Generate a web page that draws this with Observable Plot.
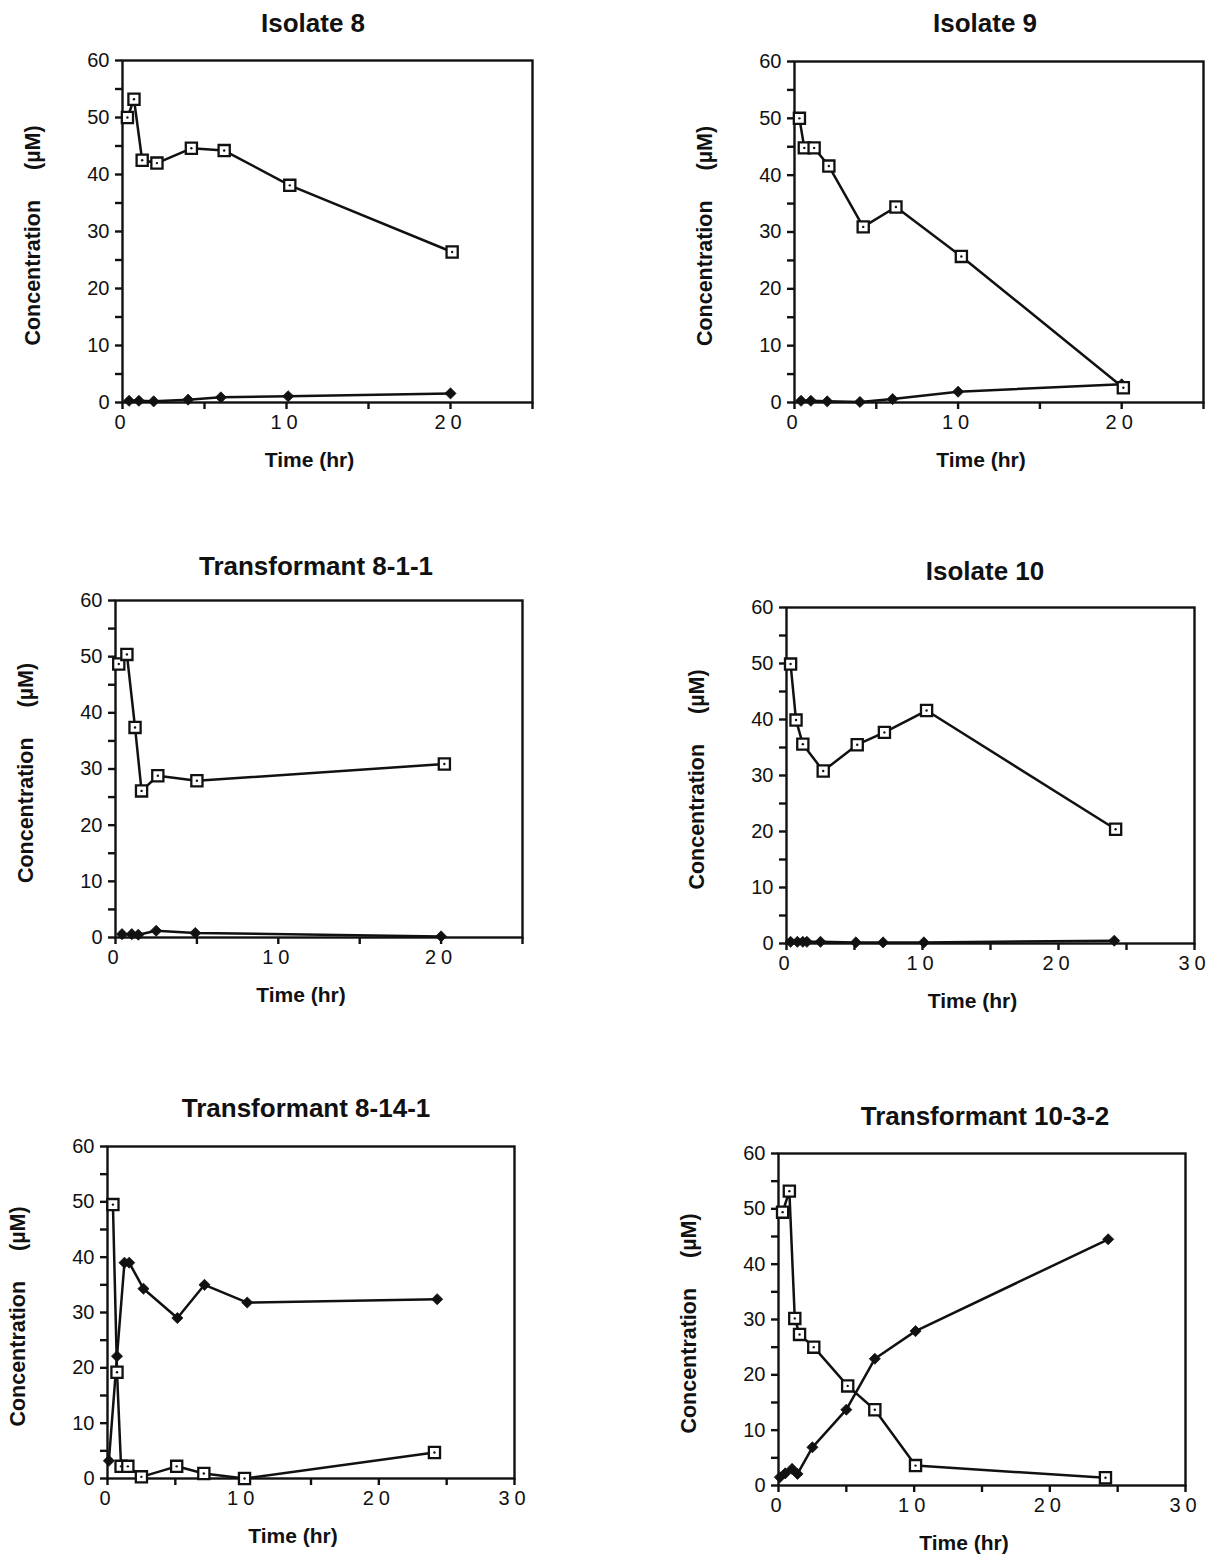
<!DOCTYPE html>
<html><head><meta charset="utf-8">
<script src="https://cdn.jsdelivr.net/npm/d3@7"></script>
<script src="https://cdn.jsdelivr.net/npm/@observablehq/plot@0.6"></script>
<style>
html,body{margin:0;padding:0;background:#fff;}
body{width:1213px;height:1557px;overflow:hidden;position:relative;font-family:"Liberation Sans",Arial,Helvetica,sans-serif;}
.title{position:absolute;font-weight:bold;font-size:26px;line-height:1;transform:translate(-50%,-50%);white-space:nowrap;color:#111;}
.panel{position:absolute;}
.panel svg g[aria-label="x-axis tick label"]{letter-spacing:5px;}
</style></head>
<body>
<script>
// ---- Data (time in hr, concentration in µM) ----
const titles = ["Isolate 8", "Isolate 9", "Transformant 8-1-1", "Isolate 10", "Transformant 8-14-1", "Transformant 10-3-2"];
const xMaxes = [25, 25, 25, 30, 30, 30];
const yTicks = [0, 5, 10, 15, 20, 25, 30, 35, 40, 45, 50, 55, 60];
const yLabel = "Concentration\u00a0\u00a0\u00a0\u00a0\u00a0(\u00b5M)";
const xLabel = "Time (hr)";

const iso8SquareT = [0.3, 0.7, 1.2, 2.1, 4.2, 6.2, 10.2, 20.1];
const iso8SquareV = [50, 53.2, 42.5, 42, 44.6, 44.2, 38.1, 26.4];
const iso8DiamondT = [0.4, 1.0, 1.9, 4.0, 6.0, 10.1, 20.0];
const iso8DiamondV = [0.3, 0.3, 0.2, 0.5, 0.9, 1.1, 1.6];

const iso9SquareT = [0.3, 0.6, 1.2, 2.1, 4.2, 6.2, 10.2, 20.1];
const iso9SquareV = [50, 44.8, 44.8, 41.6, 30.9, 34.4, 25.7, 2.6];
const iso9DiamondT = [0.4, 1.0, 2.0, 4.0, 6.0, 10.0, 20.0];
const iso9DiamondV = [0.3, 0.3, 0.2, 0.1, 0.6, 1.9, 3.2];

const t811SquareT = [0.2, 0.7, 1.2, 1.6, 2.6, 5.0, 20.2];
const t811SquareV = [48.7, 50.4, 37.4, 26.1, 28.8, 27.9, 30.9];
const t811DiamondT = [0.4, 1.0, 1.4, 2.5, 4.9, 20.0];
const t811DiamondV = [0.6, 0.6, 0.5, 1.2, 0.8, 0.2];

const iso10SquareT = [0.3, 0.7, 1.2, 2.7, 5.2, 7.2, 10.3, 24.2];
const iso10SquareV = [49.9, 39.9, 35.6, 30.8, 35.5, 37.7, 41.6, 20.4];
const iso10DiamondT = [0.3, 0.8, 1.2, 1.5, 2.5, 5.1, 7.1, 10.1, 24.1];
const iso10DiamondV = [0.3, 0.3, 0.3, 0.3, 0.3, 0.2, 0.2, 0.2, 0.5];

const t8141SquareT = [0.4, 0.7, 1.0, 1.5, 2.5, 5.1, 7.1, 10.1, 24.1];
const t8141SquareV = [49.5, 19.2, 2.2, 2.2, 0.3, 2.2, 0.9, 0, 4.7];
const t8141DiamondT = [0.1, 0.7, 1.25, 1.6, 2.65, 5.15, 7.15, 10.3, 24.3];
const t8141DiamondV = [3.2, 22.1, 39, 39, 34.3, 29, 35, 31.8, 32.4];

const t1032SquareT = [0.3, 0.8, 1.2, 1.55, 2.6, 5.1, 7.1, 10.1, 24.1];
const t1032SquareV = [49.4, 53.2, 30.2, 27.3, 25, 18, 13.7, 3.6, 1.4];
const t1032DiamondT = [0.1, 0.5, 1.0, 1.4, 2.5, 5.0, 7.1, 10.1, 24.3];
const t1032DiamondV = [1.5, 2.2, 3.0, 2.1, 6.9, 13.7, 22.9, 27.9, 44.5];

const squareT = [iso8SquareT, iso9SquareT, t811SquareT, iso10SquareT, t8141SquareT, t1032SquareT];
const squareV = [iso8SquareV, iso9SquareV, t811SquareV, iso10SquareV, t8141SquareV, t1032SquareV];
const diamondT = [iso8DiamondT, iso9DiamondT, t811DiamondT, iso10DiamondT, t8141DiamondT, t1032DiamondT];
const diamondV = [iso8DiamondV, iso9DiamondV, t811DiamondV, iso10DiamondV, t8141DiamondV, t1032DiamondV];

// ---- Layout (page positions of each plot frame: left, top, right, bottom) ----
const frames = [
  [122, 60, 532, 402],
  [794, 61, 1203, 402],
  [115, 600, 522, 937],
  [786, 607, 1194, 943],
  [107, 1146, 514, 1478],
  [778, 1153, 1185, 1485]
];
const titlePos = [[313, 23], [985, 23], [316, 566], [985, 571], [306, 1108], [985, 1116]];

const ink = "#111";
const font = "'Liberation Sans', Arial, Helvetica, sans-serif";

function makePanel(i) {
  const [l, t, r, b] = frames[i];
  const mL = 110, mT = 12, mR = i % 2 === 1 ? 6 : 10, mB = 86;
  const xMax = xMaxes[i];
  const sq = squareT[i].map((x, k) => ({t: x, v: squareV[i][k]}));
  const di = diamondT[i].map((x, k) => ({t: x, v: diamondV[i][k]}));
  const xTicks = d3.range(0, xMax + 1, 5);
  const chart = Plot.plot({
    width: (r - l) + mL + mR,
    height: (b - t) + mT + mB,
    marginLeft: mL, marginTop: mT, marginRight: mR, marginBottom: mB,
    x: {domain: [0, xMax]},
    y: {domain: [0, 60]},
    style: {fontFamily: font, color: ink, background: "white", overflow: "visible"},
    marks: [
      Plot.axisX({ticks: xTicks, tickSize: 7, tickPadding: 5, strokeWidth: 2.4, fontSize: 20,
        tickFormat: d => d % 10 === 0 ? String(d) : "", label: null}),
      Plot.axisY({ticks: yTicks, tickSize: 7, tickPadding: 6, strokeWidth: 2.4, fontSize: 20,
        tickFormat: d => d % 10 === 0 ? String(d) : "", label: null}),
      Plot.frame({stroke: ink, strokeWidth: 2.4}),
      Plot.text([xLabel], {frameAnchor: "bottom", dy: 64, dx: -18, fontWeight: "bold", fontSize: 21, fill: ink}),
      Plot.text([yLabel], {frameAnchor: "left", textAnchor: "middle", rotate: -90, dx: -89, dy: 4, fontWeight: "bold", fontSize: 21.5, fill: ink}),
      Plot.line(di, {x: "t", y: "v", stroke: ink, strokeWidth: 2.5}),
      Plot.line(sq, {x: "t", y: "v", stroke: ink, strokeWidth: 2.5}),
      Plot.dot(di, {x: "t", y: "v", symbol: "diamond2", r: 5, fill: ink, stroke: ink, strokeWidth: 0.8}),
      Plot.dot(sq, {x: "t", y: "v", symbol: "square", r: 6.3, fill: "white", stroke: ink, strokeWidth: 2.3}),
      Plot.dot(sq, {x: "t", y: "v", r: 1.2, fill: ink})
    ]
  });
  const div = document.createElement("div");
  div.className = "panel";
  div.style.left = (l - mL) + "px";
  div.style.top = (t - mT) + "px";
  div.appendChild(chart);
  document.body.appendChild(div);

  const tt = document.createElement("div");
  tt.className = "title";
  tt.textContent = titles[i];
  tt.style.left = titlePos[i][0] + "px";
  tt.style.top = titlePos[i][1] + "px";
  document.body.appendChild(tt);
}

for (let i = 0; i < 6; i++) makePanel(i);
</script>
</body></html>
